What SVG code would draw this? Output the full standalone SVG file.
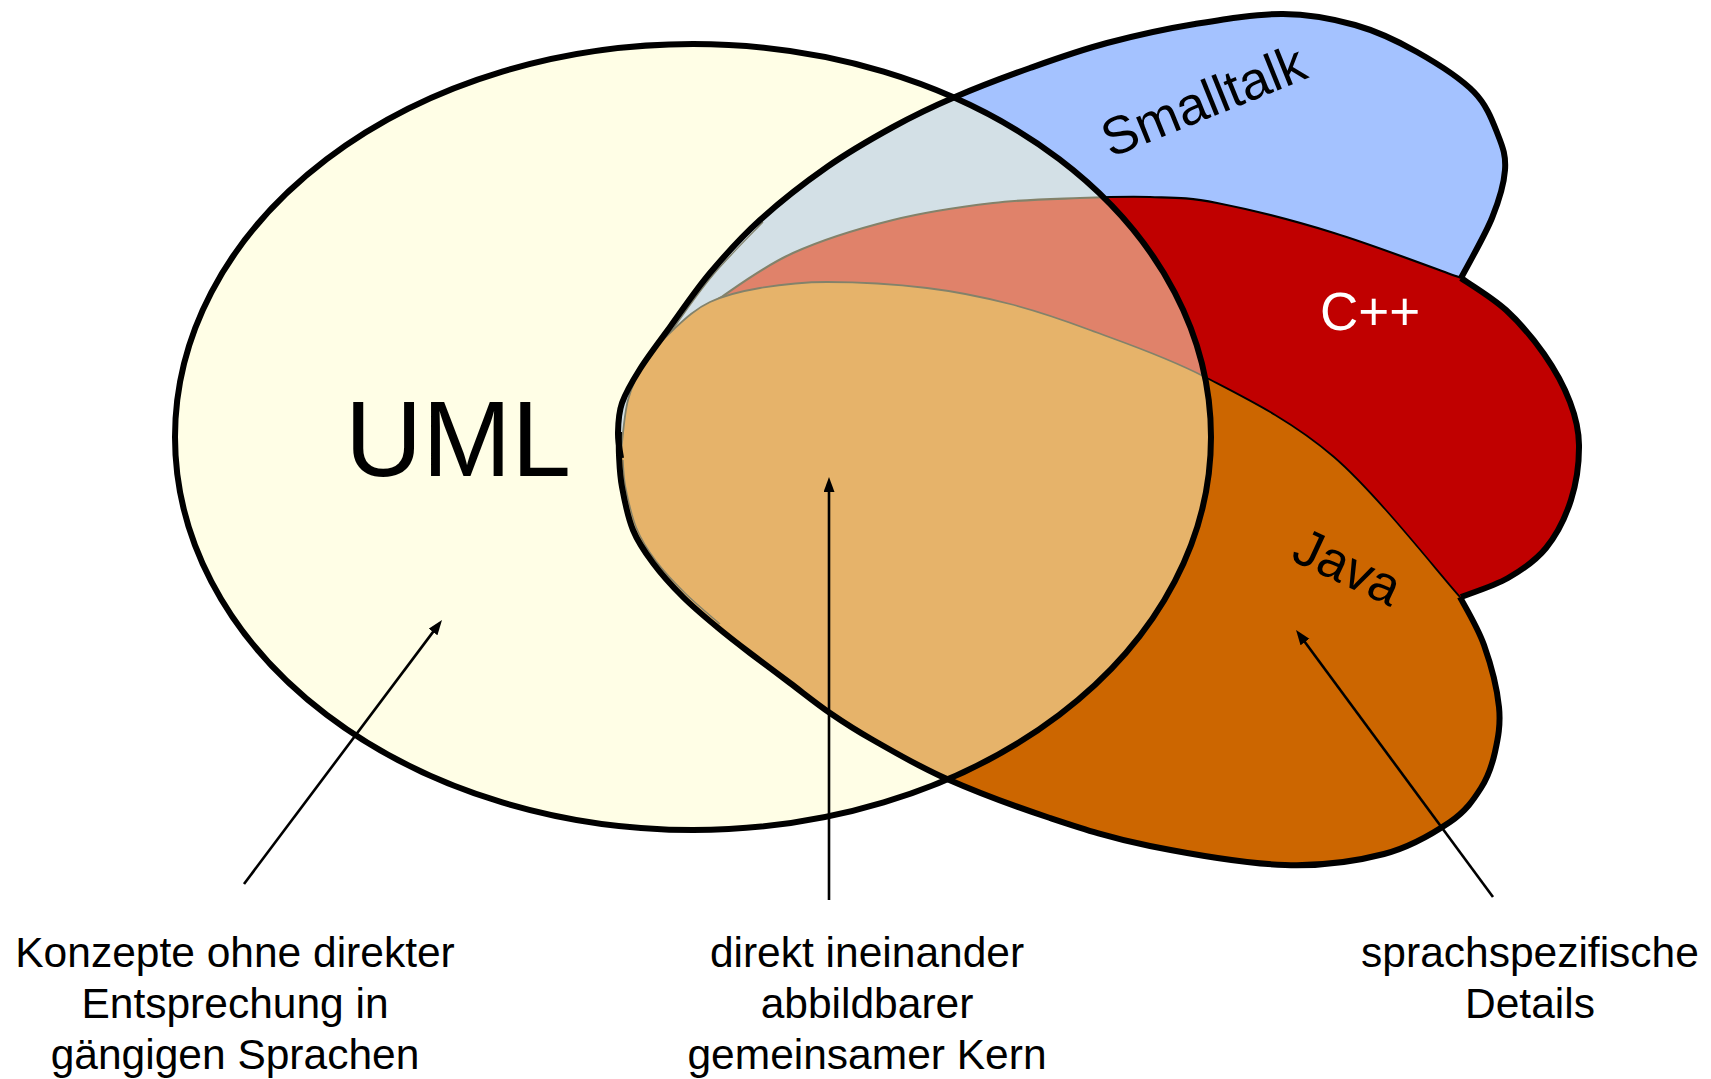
<svg xmlns="http://www.w3.org/2000/svg" width="1711" height="1079" viewBox="0 0 1711 1079">
  <style>
    .lbl { font-family: "Liberation Sans", Arial, sans-serif; }
    .lang { font-size: 53px; }
    .note { font-size: 42.5px; fill: #000; text-anchor: middle; }
    .edge { fill: none; stroke: #000; stroke-width: 6; stroke-linecap: butt; stroke-linejoin: round; }
    .inner { fill: none; stroke: #000; }
    .arrow { fill: none; stroke: #000; stroke-width: 2.6; marker-end: url(#head); }
  </style>
  <defs>
    <marker id="head" markerUnits="userSpaceOnUse" markerWidth="16" markerHeight="12" refX="7" refY="5.5" orient="auto">
      <path d="M0,0 L15,5.5 L0,11 Z" fill="#000"/>
    </marker>
    <!-- visible outline pieces of the three language sets -->
    <path id="arc-smalltalk" d="M621,458 C620.5,453.8 617.8,442.2 618,433 C618.2,423.8 618.3,413.7 622,403 C625.7,392.3 632,381.7 640,369 C648,356.3 658.3,343 670,327 C681.7,311 695,290.8 710,273 C725,255.2 740.5,237.7 760,220 C779.5,202.3 804.8,182.5 827,167 C849.2,151.5 871.7,138.7 893,127 C914.3,115.3 932.2,106.8 955,97 C977.8,87.2 1004.7,77 1030,68 C1055.3,59 1079.5,50.3 1107,43 C1134.5,35.7 1165.7,28.8 1195,24 C1224.3,19.2 1256.3,13.8 1283,14 C1309.7,14.2 1332.7,18.7 1355,25 C1377.3,31.3 1397.2,40.8 1417,52 C1436.8,63.2 1460.5,78.2 1474,92 C1487.5,105.8 1492.8,122 1498,135 C1503.2,148 1506,156.2 1505,170 C1504,183.8 1499.3,200 1492,218 C1484.7,236 1466.2,268 1461,278"/>
    <path id="arc-cpp" d="M1461,278 C1468.5,283.3 1492.2,297.3 1506,310 C1519.8,322.7 1533.3,338.7 1544,354 C1554.7,369.3 1564.2,386.8 1570,402 C1575.8,417.2 1578.8,428.7 1579,445 C1579.2,461.3 1576.5,482.8 1571,500 C1565.5,517.2 1556.5,535 1546,548 C1535.5,561 1522.2,569.8 1508,578 C1493.8,586.2 1468.8,593.8 1461,597"/>
    <path id="arc-java" d="M1460,597 C1464,605 1477.5,626.7 1484,645 C1490.5,663.3 1497.2,689.2 1499,707 C1500.8,724.8 1498,738.5 1495,752 C1492,765.5 1488.5,776.3 1481,788 C1473.5,799.7 1466.2,811 1450,822 C1433.8,833 1411.5,846.8 1384,854 C1356.5,861.2 1324,866.3 1285,865 C1246,863.7 1189.2,853.8 1150,846 C1110.8,838.2 1083.8,829.2 1050,818 C1016.2,806.8 976.5,792 947,779 C917.5,766 892.5,751 873,740 C853.5,729 843.8,722.5 830,713 C816.2,703.5 803.3,693 790,683 C776.7,673 762.2,662.3 750,653 C737.8,643.7 728.2,636.3 717,627 C705.8,617.7 693.7,607.7 683,597 C672.3,586.3 661.3,574.2 653,563 C644.7,551.8 638.2,542.7 633,530 C627.8,517.3 624.3,499.5 622,487 C619.7,474.5 619.5,464.2 619,455 C618.5,445.8 619,435.8 619,432"/>
    <path id="top-cpp" d="M622,445 C623.7,437.5 627.3,413.3 632,400 C636.7,386.7 642,376.7 650,365 C658,353.3 668.3,341.2 680,330 C691.7,318.8 701.2,310.8 720,298 C738.8,285.2 764.2,266 793,253 C821.8,240 859.7,228.3 893,220 C926.3,211.7 961.8,206.7 993,203 C1024.2,199.3 1053.8,199 1080,198 C1106.2,197 1127.2,196.2 1150,197 C1172.8,197.8 1186.3,197 1217,203 C1247.7,209 1293.3,220.5 1334,233 C1374.7,245.5 1439.8,270.5 1461,278"/>
    <path id="top-java" d="M621,452 C622.2,443.3 624,415 628,400 C632,385 637.2,374 645,362 C652.8,350 664.2,338 675,328 C685.8,318 695.8,308.7 710,302 C724.2,295.3 740.5,291.3 760,288 C779.5,284.7 799.2,282 827,282 C854.8,282 896.5,284.3 927,288 C957.5,291.7 982.8,297 1010,304 C1037.2,311 1057.5,317.8 1090,330 C1122.5,342.2 1164.3,355.8 1205,377 C1245.7,398.2 1291.5,420.3 1334,457 C1376.5,493.7 1439,573.7 1460,597"/>
  </defs>

  <rect width="1711" height="1079" fill="#fff"/>

  <!-- language sets (drawn first, the UML tint lies over them) -->
  <g id="smalltalk">
    <path fill="#A4C2FF" d="M621,458 C620.5,453.8 617.8,442.2 618,433 C618.2,423.8 618.3,413.7 622,403 C625.7,392.3 632,381.7 640,369 C648,356.3 658.3,343 670,327 C681.7,311 695,290.8 710,273 C725,255.2 740.5,237.7 760,220 C779.5,202.3 804.8,182.5 827,167 C849.2,151.5 871.7,138.7 893,127 C914.3,115.3 932.2,106.8 955,97 C977.8,87.2 1004.7,77 1030,68 C1055.3,59 1079.5,50.3 1107,43 C1134.5,35.7 1165.7,28.8 1195,24 C1224.3,19.2 1256.3,13.8 1283,14 C1309.7,14.2 1332.7,18.7 1355,25 C1377.3,31.3 1397.2,40.8 1417,52 C1436.8,63.2 1460.5,78.2 1474,92 C1487.5,105.8 1492.8,122 1498,135 C1503.2,148 1506,156.2 1505,170 C1504,183.8 1499.3,200 1492,218 C1484.7,236 1466.2,268 1461,278 C1468.5,283.3 1492.2,297.3 1506,310 C1519.8,322.7 1533.3,338.7 1544,354 C1554.7,369.3 1564.2,386.8 1570,402 C1575.8,417.2 1578.8,428.7 1579,445 C1579.2,461.3 1576.5,482.8 1571,500 C1565.5,517.2 1556.5,535 1546,548 C1535.5,561 1522.2,569.8 1508,578 C1493.8,586.2 1468.8,593.8 1461,597 L1460,597 C1464,605 1477.5,626.7 1484,645 C1490.5,663.3 1497.2,689.2 1499,707 C1500.8,724.8 1498,738.5 1495,752 C1492,765.5 1488.5,776.3 1481,788 C1473.5,799.7 1466.2,811 1450,822 C1433.8,833 1411.5,846.8 1384,854 C1356.5,861.2 1324,866.3 1285,865 C1246,863.7 1189.2,853.8 1150,846 C1110.8,838.2 1083.8,829.2 1050,818 C1016.2,806.8 976.5,792 947,779 C917.5,766 892.5,751 873,740 C853.5,729 843.8,722.5 830,713 C816.2,703.5 803.3,693 790,683 C776.7,673 762.2,662.3 750,653 C737.8,643.7 728.2,636.3 717,627 C705.8,617.7 693.7,607.7 683,597 C672.3,586.3 661.3,574.2 653,563 C644.7,551.8 638.2,542.7 633,530 C627.8,517.3 624.3,499.5 622,487 C619.7,474.5 619.5,464.2 619,455 C618.5,445.8 619,435.8 619,432 Z"/>
    <path class="inner" stroke-width="1.3" d="M646,369 C650.5,362.3 661.8,344.7 673,329 C684.2,313.3 698,292.8 713,275 C728,257.2 754.7,230.8 763,222"/>
    <text class="lbl lang" fill="#000" text-anchor="middle" transform="translate(1203,100) rotate(-22)" y="19">Smalltalk</text>
  </g>

  <g id="cpp">
    <path fill="#C00000" d="M622,445 C623.7,437.5 627.3,413.3 632,400 C636.7,386.7 642,376.7 650,365 C658,353.3 668.3,341.2 680,330 C691.7,318.8 701.2,310.8 720,298 C738.8,285.2 764.2,266 793,253 C821.8,240 859.7,228.3 893,220 C926.3,211.7 961.8,206.7 993,203 C1024.2,199.3 1053.8,199 1080,198 C1106.2,197 1127.2,196.2 1150,197 C1172.8,197.8 1186.3,197 1217,203 C1247.7,209 1293.3,220.5 1334,233 C1374.7,245.5 1439.8,270.5 1461,278 C1468.5,283.3 1492.2,297.3 1506,310 C1519.8,322.7 1533.3,338.7 1544,354 C1554.7,369.3 1564.2,386.8 1570,402 C1575.8,417.2 1578.8,428.7 1579,445 C1579.2,461.3 1576.5,482.8 1571,500 C1565.5,517.2 1556.5,535 1546,548 C1535.5,561 1522.2,569.8 1508,578 C1493.8,586.2 1468.8,593.8 1461,597 L1460,597 C1464,605 1477.5,626.7 1484,645 C1490.5,663.3 1497.2,689.2 1499,707 C1500.8,724.8 1498,738.5 1495,752 C1492,765.5 1488.5,776.3 1481,788 C1473.5,799.7 1466.2,811 1450,822 C1433.8,833 1411.5,846.8 1384,854 C1356.5,861.2 1324,866.3 1285,865 C1246,863.7 1189.2,853.8 1150,846 C1110.8,838.2 1083.8,829.2 1050,818 C1016.2,806.8 976.5,792 947,779 C917.5,766 892.5,751 873,740 C853.5,729 843.8,722.5 830,713 C816.2,703.5 803.3,693 790,683 C776.7,673 762.2,662.3 750,653 C737.8,643.7 728.2,636.3 717,627 C705.8,617.7 693.7,607.7 683,597 C672.3,586.3 661.3,574.2 653,563 C644.7,551.8 638.2,542.7 633,530 C627.8,517.3 624.3,499.5 622,487 C619.7,474.5 619.5,464.2 619,455 C618.5,445.8 619,435.8 619,432 Z"/>
    <use href="#top-cpp" class="inner" stroke-width="2.2"/>
    <text class="lbl lang" fill="#fff" text-anchor="middle" x="1370" y="330">C++</text>
  </g>

  <g id="java">
    <path fill="#CC6600" d="M621,452 C622.2,443.3 624,415 628,400 C632,385 637.2,374 645,362 C652.8,350 664.2,338 675,328 C685.8,318 695.8,308.7 710,302 C724.2,295.3 740.5,291.3 760,288 C779.5,284.7 799.2,282 827,282 C854.8,282 896.5,284.3 927,288 C957.5,291.7 982.8,297 1010,304 C1037.2,311 1057.5,317.8 1090,330 C1122.5,342.2 1164.3,355.8 1205,377 C1245.7,398.2 1291.5,420.3 1334,457 C1376.5,493.7 1439,573.7 1460,597 C1464,605 1477.5,626.7 1484,645 C1490.5,663.3 1497.2,689.2 1499,707 C1500.8,724.8 1498,738.5 1495,752 C1492,765.5 1488.5,776.3 1481,788 C1473.5,799.7 1466.2,811 1450,822 C1433.8,833 1411.5,846.8 1384,854 C1356.5,861.2 1324,866.3 1285,865 C1246,863.7 1189.2,853.8 1150,846 C1110.8,838.2 1083.8,829.2 1050,818 C1016.2,806.8 976.5,792 947,779 C917.5,766 892.5,751 873,740 C853.5,729 843.8,722.5 830,713 C816.2,703.5 803.3,693 790,683 C776.7,673 762.2,662.3 750,653 C737.8,643.7 728.2,636.3 717,627 C705.8,617.7 693.7,607.7 683,597 C672.3,586.3 661.3,574.2 653,563 C644.7,551.8 638.2,542.7 633,530 C627.8,517.3 624.3,499.5 622,487 C619.7,474.5 619.5,464.2 619,455 C618.5,445.8 619,435.8 619,432 Z"/>
    <use href="#top-java" class="inner" stroke-width="1.8"/>
    <path class="inner" stroke-width="1.3" d="M623,460 C623.4,464.5 623.4,475.7 625.6,487 C627.9,498.3 631.4,515.7 636.5,528 C641.6,540.3 647.8,550 656,561 C664.3,572 675.3,583.5 686,594 C696.7,604.5 714.3,619 720,624"/>
    <text class="lbl lang" fill="#000" text-anchor="middle" transform="translate(1348,566) rotate(25)" y="19">Java</text>
  </g>

  <!-- UML set: translucent tint over everything it covers -->
  <g id="uml">
    <ellipse cx="693" cy="437" rx="518" ry="393" fill="#FFFDCE" fill-opacity="0.514" stroke="none"/>
  </g>

  <!-- outer border of the three language sets -->
  <g id="language-borders">
    <use href="#arc-smalltalk" class="edge"/>
    <use href="#arc-cpp" class="edge"/>
    <use href="#arc-java" class="edge"/>
  </g>

  <g id="uml-border">
    <ellipse cx="693" cy="437" rx="518" ry="393" fill="none" stroke="#000" stroke-width="6"/>
    <text class="lbl" x="345" y="476" font-size="107" fill="#000">UML</text>
  </g>

  <!-- pointers from the captions into the regions -->
  <g id="connectors">
    <line class="arrow" x1="244" y1="884" x2="437.2" y2="626.4"/>
    <line class="arrow" x1="829" y1="900" x2="829" y2="485"/>
    <line class="arrow" x1="1493" y1="897" x2="1300.8" y2="636.4"/>
  </g>

  <g id="note-uml-only" class="lbl note">
    <text x="235" y="967">Konzepte ohne direkter</text>
    <text x="235" y="1018">Entsprechung in</text>
    <text x="235" y="1069">gängigen Sprachen</text>
  </g>
  <g id="note-core" class="lbl note">
    <text x="867" y="967">direkt ineinander</text>
    <text x="867" y="1018">abbildbarer</text>
    <text x="867" y="1069">gemeinsamer Kern</text>
  </g>
  <g id="note-specific" class="lbl note">
    <text x="1530" y="967">sprachspezifische</text>
    <text x="1530" y="1018">Details</text>
  </g>
</svg>
